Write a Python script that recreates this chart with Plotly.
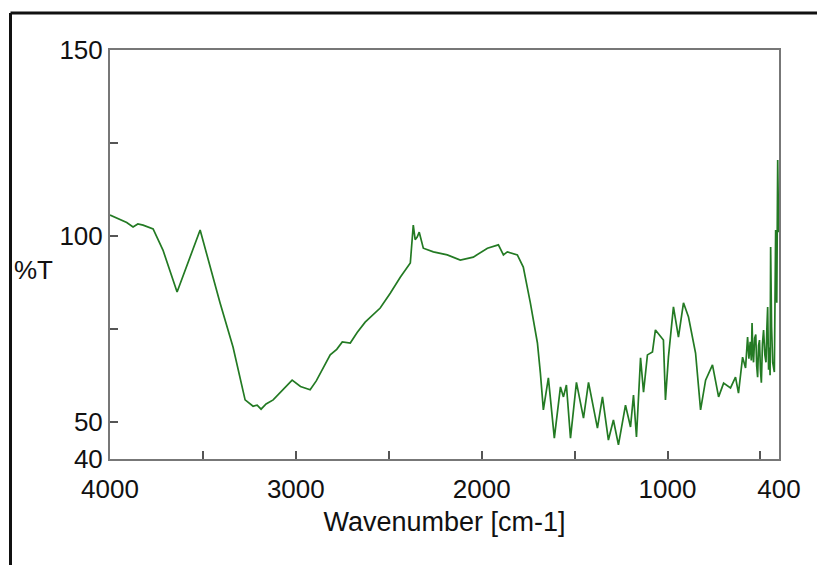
import plotly.graph_objects as go

# IR transmittance spectrum (%T vs wavenumber)
wavenumber = [
    4000, 3946, 3910, 3876, 3850, 3822, 3790, 3768, 3715, 3639,
    3515, 3461, 3408, 3338, 3273, 3230, 3208, 3187, 3160, 3122,
    3070, 3020, 2975, 2923, 2890, 2858, 2815, 2780, 2750, 2707,
    2670, 2627, 2590, 2546, 2492, 2438, 2384, 2372, 2368, 2358,
    2347, 2336, 2314, 2260, 2185, 2115, 2045, 1969, 1910, 1883,
    1862, 1808, 1776, 1738, 1700, 1684, 1668, 1641, 1609, 1576,
    1560, 1544, 1522, 1490, 1452, 1425, 1377, 1350, 1318, 1291,
    1264, 1226, 1199, 1183, 1167, 1145, 1129, 1108, 1081, 1065,
    1022, 1011, 995, 968, 941, 914, 887, 849, 822, 795,
    758, 725, 698, 661, 634, 618, 596, 580, 569, 562,
    555, 549, 545, 541, 537, 531, 525, 520, 515, 510,
    505, 500, 495, 489, 483, 476, 470, 465, 461, 456,
    452, 448, 445, 440, 434, 425, 418, 412, 407, 402, 400,
]
transmittance = [
    105.6, 104.5, 103.6, 102.4, 103.2, 102.9, 102.3, 101.9, 96.2, 84.9,
    101.6, 91.6, 82.0, 70.1, 55.9, 54.2, 54.5, 53.4, 54.8, 55.9,
    58.5, 61.2, 59.5, 58.6, 61.0, 63.9, 68.0, 69.5, 71.5, 71.2,
    74.0, 76.8, 78.5, 80.6, 84.6, 88.9, 92.7, 100.0, 102.9, 99.0,
    99.7, 101.0, 96.7, 95.7, 94.9, 93.5, 94.3, 96.7, 97.6, 94.9,
    95.7, 94.9, 91.6, 82.0, 71.2, 63.1, 53.2, 61.8, 45.6, 59.4,
    56.7, 59.9, 45.6, 60.6, 51.0, 60.6, 48.3, 56.7, 45.1, 50.5,
    43.8, 54.5, 48.6, 57.2, 45.9, 67.2, 58.0, 68.0, 68.8, 74.7,
    72.0, 55.9, 67.4, 80.9, 72.8, 82.0, 78.2, 68.5, 53.2, 61.2,
    65.3, 56.7, 60.4, 59.1, 62.0, 57.7, 67.4, 64.5, 72.8, 67.0,
    71.5, 66.5, 76.6, 69.0, 66.0, 72.5, 73.5, 65.0, 62.0, 70.5,
    72.0, 64.0, 60.5, 71.0, 74.7, 68.0, 66.0, 75.5, 80.9, 64.0,
    70.0, 62.5, 97.0, 75.5, 66.0, 63.4, 101.6, 82.0, 120.4, 101.0, 105.0,
]

x_tickvals = [4000, 3500, 3000, 2500, 2000, 1500, 1000, 500, 400]
x_ticktext = ["4000", "", "3000", "", "2000", "", "1000", "", "400"]
y_tickvals = [40, 50, 75, 100, 125, 150]
y_ticktext = ["40", "50", "", "100", "", "150"]

FONT = "Liberation Sans, Arial, sans-serif"

fig = go.Figure()
fig.add_trace(go.Scatter(
    x=wavenumber, y=transmittance, mode="lines",
    line=dict(color="#237a23", width=1.7),
    showlegend=False, hoverinfo="skip",
))

axis_common = dict(
    showline=True, mirror=True, linecolor="#777777", linewidth=2,
    ticks="inside", ticklen=8, tickwidth=1.5, tickcolor="#555555",
    showgrid=False, zeroline=False,
    tickfont=dict(family=FONT, size=26, color="#111111"),
)

fig.update_xaxes(
    range=[4000, 400], tickmode="array",
    tickvals=x_tickvals, ticktext=x_ticktext,
    ticklabelstandoff=6,
    title=dict(text="Wavenumber [cm-1]", standoff=9,
               font=dict(family=FONT, size=27, color="#111111")),
    **axis_common,
)
fig.update_yaxes(
    range=[40, 150], tickmode="array",
    tickvals=y_tickvals, ticktext=y_ticktext,
    **axis_common,
)

# horizontal y-axis label
fig.add_annotation(
    text="%T", xref="paper", yref="paper",
    x=(33 - 110) / 669, y=(459 - 270) / 409,
    xanchor="center", yanchor="middle", showarrow=False,
    font=dict(family=FONT, size=26, color="#111111"),
)

# frame around the figure (left and top edges)
x_left = (10.5 - 110) / 669
y_top = (459 - 13) / 409
y_bot = (459 - 570) / 409
x_right = (820 - 110) / 669
fig.add_shape(type="line", xref="paper", yref="paper",
              x0=x_left, y0=y_bot, x1=x_left, y1=y_top,
              line=dict(color="#111111", width=3))
fig.add_shape(type="line", xref="paper", yref="paper",
              x0=x_left, y0=y_top, x1=x_right, y1=y_top,
              line=dict(color="#111111", width=3))

fig.update_layout(
    width=817, height=565,
    margin=dict(l=110, r=38, t=50, b=106),
    paper_bgcolor="white", plot_bgcolor="white",
    font=dict(family=FONT, color="#111111"),
)

fig.write_html("out.html")
